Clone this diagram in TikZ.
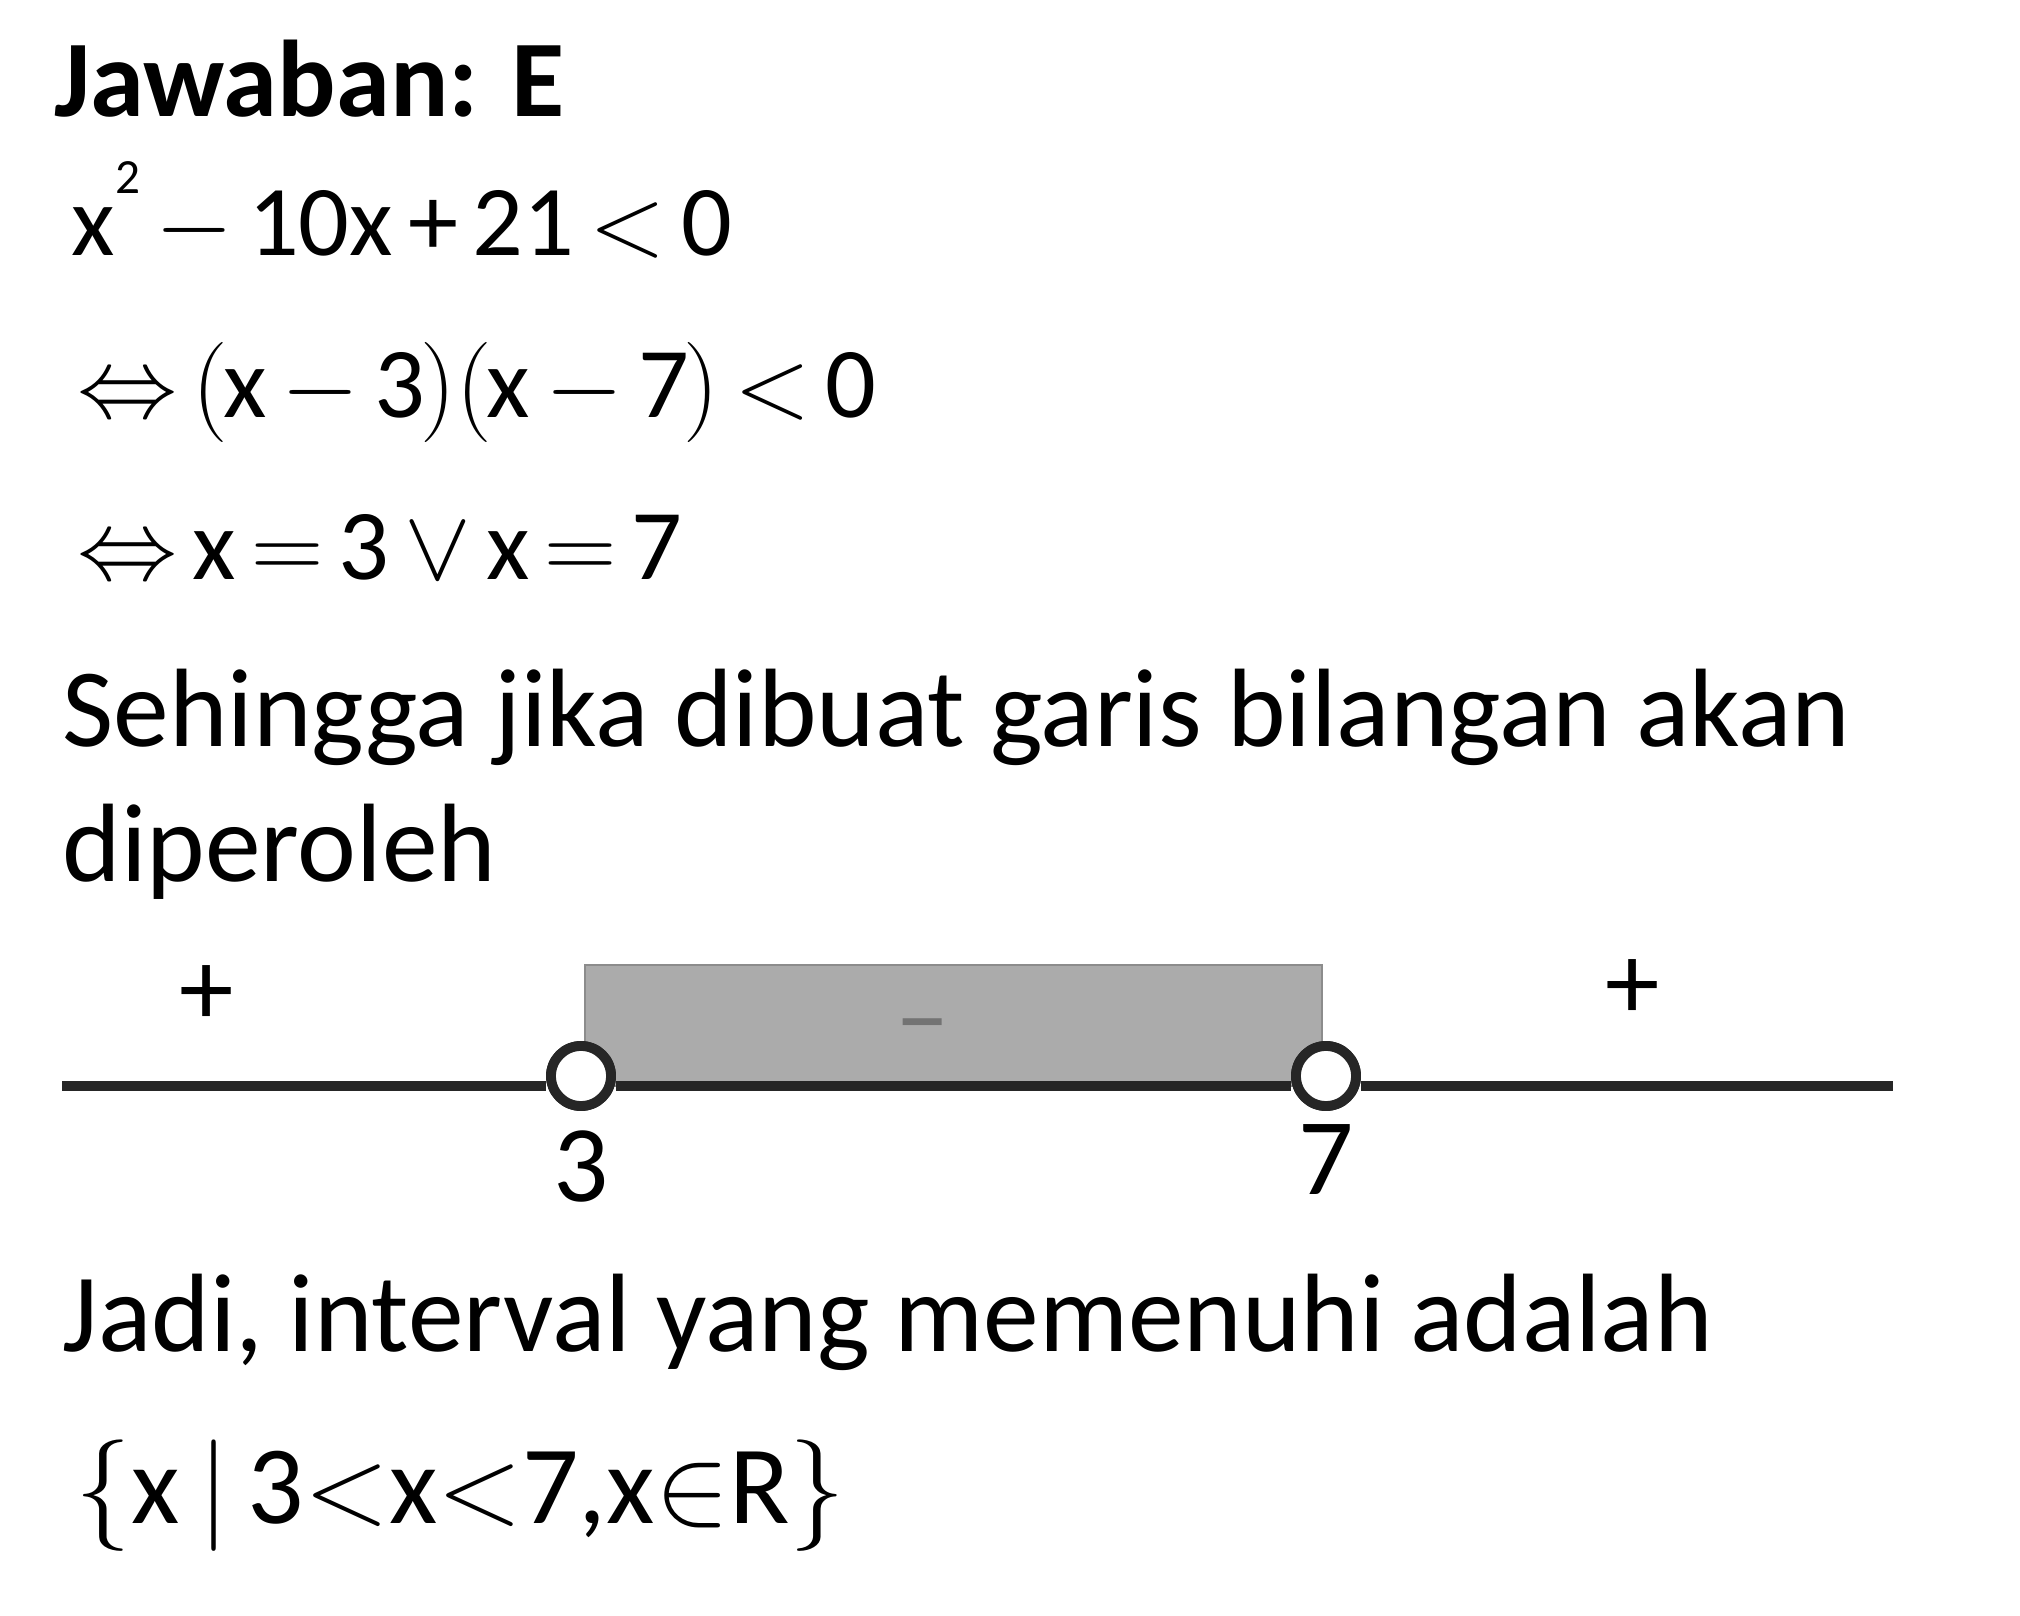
\RequirePackage{fix-cm}
\documentclass[tikz,border=0pt]{standalone}
\usepackage{fontspec}
\setmainfont{Carlito}
\newcommand\gp{\hspace{0.15em}}
\newcommand\sqr{\raisebox{0.62em}{\fontsize{14}{14}\selectfont 2}}
\newcommand\lp{$\Bigl($\kern-0.05em}
\newcommand\rp{\kern-0.05em$\Bigr)$}
\begin{document}
\begin{tikzpicture}[x=0.01cm,y=-0.01cm,
  head/.style={anchor=base west,inner sep=0pt,font=\fontsize{31}{37}\selectfont\bfseries},
  body/.style={anchor=base west,inner sep=0pt,font=\fontsize{31.7}{37}\selectfont},
  eqn/.style={anchor=base west,inner sep=0pt,font=\fontsize{28.5}{34}\selectfont},
  sign/.style={inner sep=0pt,font=\fontsize{31}{37}\selectfont},
  numlab/.style={anchor=base,inner sep=0pt,font=\fontsize{31}{37}\selectfont},
  axis/.style={line width=3pt,black!85},
  hole/.style={circle,draw=black!85,fill=white,line width=2.8pt,minimum size=0.6cm,inner sep=0pt},
  region/.style={fill=black!33,draw=black!45,line width=0.8pt}
]
\useasboundingbox[fill=white] (0,0) rectangle (2020,1616);

\node[head] (jaw) at (54,117) {Jawaban: E};
\node[eqn] (e1) at (71,256) {x\sqr\gp$-$\gp10x\gp+\gp21\gp$<$\gp0};
\node[eqn] (e2) at (77,418) {$\Leftrightarrow$\gp\lp x\gp$-$\gp3\rp\lp x\gp$-$\gp7\rp\gp$<$\gp0};
\node[eqn] (e3) at (77,580) {$\Leftrightarrow$\gp x\gp$=$\gp3\gp$\vee$\gp x\gp$=$\gp7};
\node[body] (s1) at (62,747) {Sehingga jika dibuat garis bilangan akan};
\node[body] (s2) at (62,882) {diperoleh};

% number line
\fill[region] (585,965) rectangle (1322,1086);
\coordinate (L) at (62,1086);
\coordinate (R) at (1893,1086);
\node[hole] (c3) at (581,1076) {};
\node[hole] (c7) at (1326,1076) {};
\draw[axis] (L) -- (c3.west |- L);
\draw[axis] (c3.east |- L) -- (c7.west |- L);
\draw[axis] (c7.east |- L) -- (R);
\node[hole] at (c3) {};
\node[hole] at (c7) {};
\node[sign] (p1) at (207,996) {+};
\node[sign] (p2) at (1633,990) {+};
\node[sign,text=black!55] (m) at (923,1036) {–};
\node[numlab] (n3) at (581,1202) {3};
\node[numlab] (n7) at (1326,1195) {7};

\node[body] (j1) at (62,1352) {Jadi, interval yang memenuhi adalah};
\node[body] (set) at (75,1524) {$\Bigl\{$x$\,|\,$3$<$x$<$7,x$\in$R$\Bigr\}$};
\end{tikzpicture}
\end{document}
